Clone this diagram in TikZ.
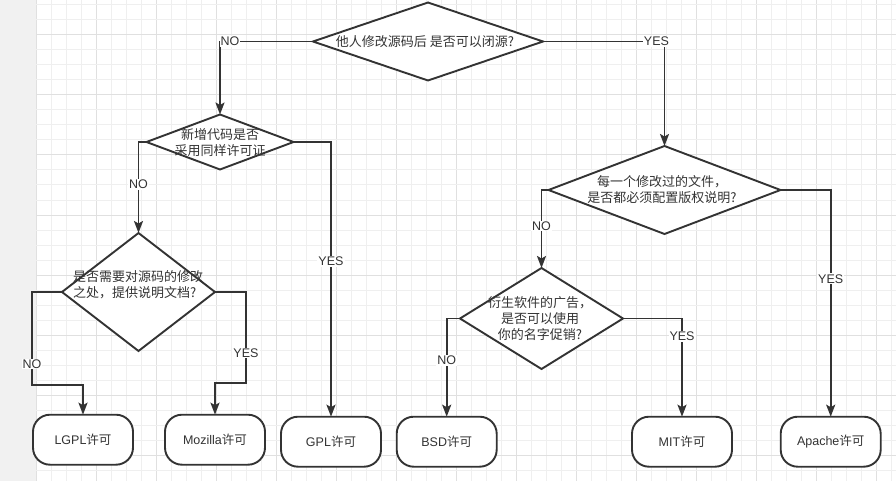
\documentclass[tikz,border=0pt]{standalone}
\usepackage{fontspec}
\setmainfont{Liberation Sans}
\newfontfamily\cjk{Noto Sans CJK SC}
\usetikzlibrary{shapes.geometric,arrows.meta}
\definecolor{ink}{HTML}{333333}
\definecolor{gridminor}{HTML}{EFEFEF}
\definecolor{gridmajor}{HTML}{E0E0E0}
\definecolor{side}{HTML}{F1F1F1}
\begin{document}
\begin{tikzpicture}[x=1pt,y=-1pt,
  dia/.style={diamond, draw=ink, line width=1.9pt, fill=white, inner sep=0pt, outer sep=0pt},
  box/.style={rectangle, rounded corners=17pt, draw=ink, line width=1.9pt, fill=white,
    minimum width=100pt, minimum height=50pt, inner sep=0pt, outer sep=0pt,
    text=ink, font=\fontsize{12.5pt}{15pt}\selectfont},
  txt/.style={text=ink, font=\fontsize{13pt}{16pt}\selectfont\cjk, align=center, inner sep=0pt},
  conn/.style={draw=ink, line width=1.9pt, -{Stealth[length=12pt,width=9pt,inset=2.5pt]}},
  lab/.style={fill=white, text=ink, inner sep=1pt, font=\fontsize{12.5pt}{15pt}\selectfont}]
\useasboundingbox (0,0) rectangle (896,481);
% background and grid
\fill[white] (36,0) rectangle (896,481);
\fill[side] (0,0) rectangle (36,481);
\foreach \i in {0,...,57} {
  \pgfmathtruncatemacro{\m}{mod(\i,4)}
  \ifnum\m=0
    \draw[gridmajor, line width=1pt] ({36+15*\i},0) -- ({36+15*\i},481);
  \else
    \draw[gridminor, line width=1pt] ({36+15*\i},0) -- ({36+15*\i},481);
  \fi
}
\foreach \j in {0,...,31} {
  \pgfmathtruncatemacro{\m}{mod(\j+2,4)}
  \ifnum\m=0
    \draw[gridmajor, line width=1pt] (36,{5+15*\j}) -- (896,{5+15*\j});
  \else
    \draw[gridminor, line width=1pt] (36,{5+15*\j}) -- (896,{5+15*\j});
  \fi
}
% decision diamonds
\node[dia, minimum width=230pt, minimum height=78pt] (d1) at (428,41.5) {};
\node[dia, minimum width=147pt, minimum height=55pt] (d2) at (220,142) {};
\node[dia, minimum width=153pt, minimum height=118pt] (d3) at (138.5,292) {};
\node[dia, minimum width=232pt, minimum height=88pt] (d4) at (664.5,190) {};
\node[dia, minimum width=163pt, minimum height=101pt] (d5) at (541.5,318.5) {};
% texts
\node[txt] (t1) at (425,42) {他人修改源码后 是否可以闭源?};
\node[txt] (t2) at (220,143) {新增代码是否\\采用同样许可证};
\node[txt, align=left] (t3) at (138,284.5) {是否需要对源码的修改\\之处，提供说明文档?};
\node[txt] (t4) at (662,190) {每一个修改过的文件，\\是否都必须配置版权说明?};
\node[txt] (t5) at (540,318.5) {衍生软件的广告，\\是否可以使用\\你的名字促销?};
% terminal boxes
\node[box] (lgpl) at (83,439.7) {LGPL{\cjk 许可}};
\node[box] (moz) at (215,439.7) {Mozilla{\cjk 许可}};
\node[box] (gpl) at (331,441.7) {GPL{\cjk 许可}};
\node[box] (bsd) at (446.7,441.7) {BSD{\cjk 许可}};
\node[box] (mit) at (682,441.7) {MIT{\cjk 许可}};
\node[box] (apache) at (830.7,441.7) {Apache{\cjk 许可}};
% bend points
\coordinate (n3) at (32,385);
\coordinate (y3) at (246,383);
% connectors
\draw[conn] (d1.west) -| node[lab, pos=0.446] (l1) {NO} (d2.north);
\draw[conn] (d1.east) -| node[lab, pos=0.467] (l2) {YES} (d4.north);
\draw[conn] (d2.west) -| node[lab, pos=0.733] (l3) {NO} (d3.north);
\draw[conn] (d2.east) -| node[lab, pos=0.717] (l4) {YES} (gpl.north);
\draw[conn] (d3.west) -| node[lab, pos=0.887] (l5) {NO} (n3) -| (lgpl.north);
\draw[conn] (d3.east) -| node[lab, pos=0.835] (l6) {YES} (y3) -| (moz.north);
\draw[conn] (d4.west) -| node[lab, pos=0.731] (l7) {NO} (d5.north);
\draw[conn] (d4.east) -| node[lab, pos=0.696] (l8) {YES} (apache.north);
\draw[conn] (d5.west) -| node[lab, pos=0.714] (l9) {NO} (bsd.north);
\draw[conn] (d5.east) -| node[lab, pos=0.592] (l10) {YES} (mit.north);
\end{tikzpicture}
\end{document}
